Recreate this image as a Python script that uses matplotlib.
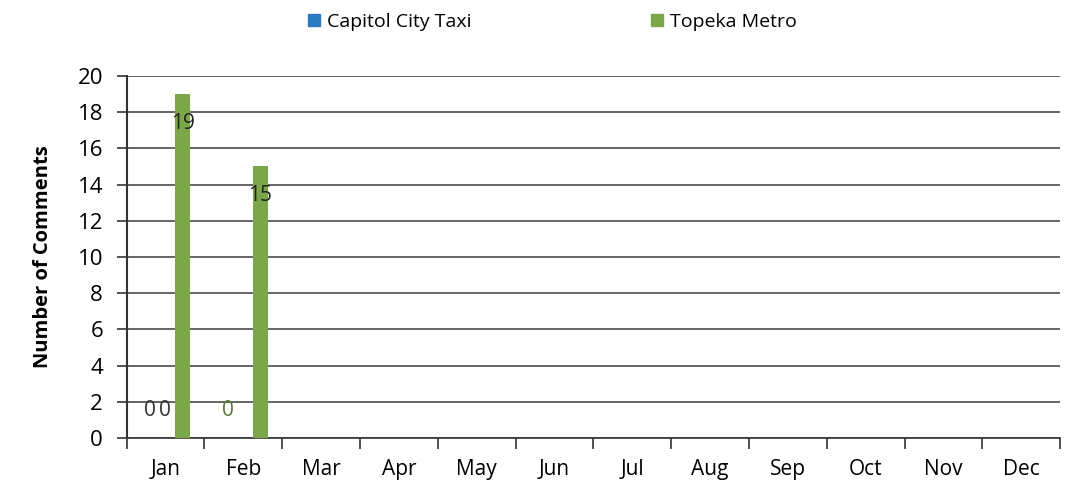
import numpy as np
import matplotlib
matplotlib.use("Agg")
import matplotlib.pyplot as plt
from matplotlib.patches import Patch

months = ["Jan", "Feb", "Mar", "Apr", "May", "Jun",
          "Jul", "Aug", "Sep", "Oct", "Nov", "Dec"]
capitol_taxi = [0, 0]       # Jan, Feb
other_service = [0]         # Jan only (unlabelled in legend)
topeka_metro = [19, 15]     # Jan, Feb

plt.rcParams['font.family'] = ['Open Sans', 'DejaVu Sans']

fig = plt.figure(figsize=(10.73, 4.87), dpi=100)
ax = fig.add_axes([0.118, 0.1006, 0.870, 0.7434])

x = np.arange(len(months))
bw = 0.19
green = "#7ba64a"
blue = "#2a7bbf"

ax.set_axisbelow(True)
ax.yaxis.grid(True, color="#3c3c3c", lw=1.1)

ax.bar(x[:len(topeka_metro)] + 0.22, topeka_metro, bw, color=green, zorder=3)
ax.bar(x[:len(capitol_taxi)] - 0.21, capitol_taxi, bw, color=blue, zorder=3)

# data labels
for i, v in enumerate(topeka_metro):
    ax.text(x[i] + 0.22, v - 1.6, str(v), ha="center", va="center",
            fontsize=15, color="#222222", zorder=4)
for i, v in enumerate(other_service):
    ax.text(x[i] - 0.2, v + 1.5, str(v), ha="center", va="center",
            fontsize=15, color="#333333", zorder=4)
ax.text(x[0] - 0.01, capitol_taxi[0] + 1.5, str(capitol_taxi[0]), ha="center",
        va="center", fontsize=15, color="#333333", zorder=4)
ax.text(x[1] - 0.2, capitol_taxi[1] + 1.5, str(capitol_taxi[1]), ha="center",
        va="center", fontsize=15, color="#5a7a3a", zorder=4)

ax.set_xlim(-0.5, 11.5)
ax.set_ylim(0, 20)
ax.set_yticks(np.arange(0, 21, 2))
ax.set_xticks(x)
ax.set_xticklabels(months)
ax.set_xticks(np.arange(-0.5, 12, 1), minor=True)
ax.tick_params(axis="x", which="major", length=0, pad=15, labelsize=15)
ax.tick_params(axis="x", which="minor", length=8, width=1.2, color="#333333")
ax.tick_params(axis="y", length=7, width=1.2, color="#333333", labelsize=16, pad=10)

for s in ["top", "right"]:
    ax.spines[s].set_visible(False)
ax.spines["left"].set_color("#333333")
ax.spines["left"].set_linewidth(1.5)
ax.spines["bottom"].set_color("#333333")
ax.spines["bottom"].set_linewidth(1.2)

ax.set_ylabel("Number of Comments", fontsize=14.5, fontweight="bold", labelpad=18)

handles = [Patch(color=blue, label="Capitol City Taxi"),
           Patch(color=green, label="Topeka Metro")]
fig.legend(handles=handles, loc="upper center", bbox_to_anchor=(0.515, 1.01),
           ncol=2, frameon=False, fontsize=14, handlelength=0.6, handleheight=0.6,
           columnspacing=9.2, handletextpad=0.4)

fig.savefig("out.png", dpi=100)
